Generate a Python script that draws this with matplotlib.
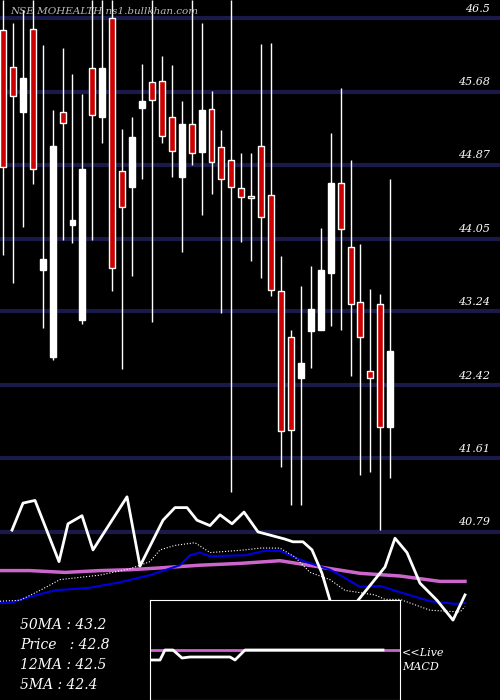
import numpy as np
import matplotlib.pyplot as plt

# candle OHLC, one per trading day
opens  = [46.37, 45.96, 45.46, 46.38, 43.70, 42.73, 45.46, 44.20, 43.14, 45.94,
          45.40, 46.50, 44.80, 44.62, 45.50, 45.79, 45.80, 45.40, 44.73, 45.32,
          45.01, 45.49, 45.07, 44.92, 44.61, 44.51, 45.08, 44.53, 43.47, 42.96,
          42.50, 43.02, 43.03, 43.67, 44.67, 43.96, 43.34, 42.58, 43.32, 41.96]
highs  = [46.70, 46.44, 46.59, 46.70, 46.20, 45.48, 46.17, 45.88, 45.66, 46.70,
          46.70, 46.70, 45.27, 45.40, 45.99, 46.70, 46.08, 45.98, 45.58, 46.70,
          46.44, 45.69, 45.26, 46.70, 45.00, 45.00, 46.21, 46.22, 43.86, 43.03,
          43.52, 43.74, 44.17, 45.22, 45.72, 44.92, 43.99, 43.49, 43.43, 44.71]
lows   = [43.87, 43.56, 44.18, 44.66, 43.06, 42.70, 44.03, 44.00, 43.10, 44.03,
          45.11, 43.47, 42.60, 43.63, 44.71, 43.12, 45.11, 44.73, 43.90, 44.87,
          44.31, 44.54, 43.22, 41.23, 44.01, 43.80, 43.61, 43.41, 41.51, 41.09,
          41.09, 42.61, 43.03, 43.08, 43.03, 42.52, 41.42, 41.46, 40.81, 41.39]
closes = [44.84, 45.63, 45.83, 44.82, 43.82, 45.08, 45.33, 44.26, 44.82, 45.42,
          45.94, 43.72, 44.40, 45.18, 45.58, 45.59, 45.19, 45.02, 45.32, 45.00,
          45.48, 44.90, 44.71, 44.62, 44.51, 44.50, 44.29, 43.48, 41.91, 41.92,
          42.67, 43.27, 43.70, 44.67, 44.16, 43.32, 42.96, 42.50, 41.96, 42.80]

price_ticks = [46.5, 45.68, 44.87, 44.05, 43.24, 42.42, 41.61, 40.79]

# overlay lines (x in chart pixels, y in price units)
white_x = [12, 23, 35, 59, 68, 82, 93, 127, 140, 163, 175, 187, 197, 210, 220, 232, 244, 258,
           285, 293, 303, 312, 322, 330, 340, 350, 358, 385, 395, 407, 420, 437, 453, 465]
white_y = [40.81, 41.11, 41.14, 40.46, 40.88, 40.97, 40.59, 41.18, 40.41, 40.92, 41.06, 41.06,
           40.92, 40.86, 40.98, 40.88, 41.01, 40.79, 40.71, 40.68, 40.68, 40.59, 40.33, 40.03,
           39.81, 39.87, 40.03, 40.40, 40.72, 40.56, 40.22, 40.03, 39.81, 40.09]
blue_x = [0, 10, 30, 55, 90, 120, 150, 180, 190, 200, 210, 245, 265, 280, 290, 305, 330, 340,
          360, 380, 400, 430, 455, 465]
blue_y = [40.00, 40.00, 40.07, 40.14, 40.17, 40.23, 40.31, 40.42, 40.53, 40.56, 40.52, 40.53,
          40.58, 40.58, 40.53, 40.46, 40.37, 40.31, 40.18, 40.19, 40.12, 40.02, 39.99, 40.00]
pink_x = [0, 30, 65, 100, 130, 160, 200, 240, 280, 320, 360, 400, 440, 465]
pink_y = [40.36, 40.36, 40.34, 40.36, 40.37, 40.39, 40.42, 40.44, 40.47, 40.40, 40.33, 40.30,
          40.24, 40.24]
dot_x = [0, 20, 40, 60, 100, 130, 150, 160, 175, 195, 210, 245, 260, 280, 295, 310, 330, 345,
         375, 385, 400, 430, 460, 465]
dot_y = [40.02, 40.03, 40.14, 40.26, 40.31, 40.38, 40.46, 40.59, 40.64, 40.67, 40.56, 40.59,
         40.61, 40.61, 40.51, 40.34, 40.26, 40.14, 40.09, 40.04, 40.04, 39.92, 39.90, 39.96]

# MACD inset
macd_x = [0, 10, 15, 23, 32, 40, 80, 85, 95, 233]
macd_y = [-1.0, -1.0, 0.0, 0.0, -0.8, -0.7, -0.7, -1.0, 0.0, 0.0]
signal_level = 0.0

labels = ["50MA : 43.2", "Price   : 42.8", "12MA : 42.5", "5MA : 42.4"]

fig = plt.figure(figsize=(5, 7), dpi=100, facecolor='black')
ax = fig.add_axes([0, 0, 1, 1])
ax.set_facecolor('black')
ax.set_xlim(-0.3, 50.05)
ax.set_ylim(46.7 - 700 / 90, 46.7)
ax.axis('off')

for t in price_ticks:
    ax.axhline(t, color='#1a1a4a', lw=3, zorder=1)
    ax.text(49.0, t + 0.05, str(t), color='white', fontsize=8, family='DejaVu Serif',
            style='italic', ha='right', va='bottom', zorder=5)

for i, (o, h, l, c) in enumerate(zip(opens, highs, lows, closes)):
    ax.vlines(i, l, h, color='white', lw=1, zorder=2)
    lo, hi = min(o, c), max(o, c)
    if hi - lo < 0.02:
        hi = lo + 0.02
    face = '#cc0000' if c < o else 'white'
    ax.bar(i, hi - lo, bottom=lo, width=0.6, color=face, edgecolor='white', lw=1, zorder=3)

ov = ax.twiny()
ov.set_xlim(0, 500)
ov.axis('off')
ov.plot(pink_x, pink_y, color='#cc66cc', lw=2.5, zorder=4)
ov.plot(blue_x, blue_y, color='#0000dd', lw=1.5, zorder=4)
ov.plot(dot_x, dot_y, color='white', lw=0.8, ls=':', zorder=4)
ov.plot(white_x, white_y, color='white', lw=2, zorder=4)

fig.text(0.02, 1 - 12 / 700, "NSE MOHEALTH ns1.bullkhan.com", color='#bbbbbb', fontsize=7.5,
         family='DejaVu Serif', style='italic', va='center', zorder=6)
for k, s in enumerate(labels):
    fig.text(0.04, (700 - 625 - 20 * k) / 700, s, color='white', fontsize=10,
             family='DejaVu Serif', style='italic', va='center')
fig.text(0.804, 1 - 660 / 700, "<<Live\nMACD", color='white', fontsize=8,
         family='DejaVu Serif', style='italic', va='center', linespacing=1.4)

inset = fig.add_axes([0.3, 0.0, 0.5, 100 / 700])
inset.set_facecolor('black')
inset.set_xlim(0, 250)
inset.set_ylim(-5, 5)
inset.set_xticks([])
inset.set_yticks([])
for sp in inset.spines.values():
    sp.set_color('white')
inset.axhline(signal_level, color='#cc66cc', lw=2)
inset.plot(macd_x, macd_y, color='white', lw=2)

fig.savefig('out.png', dpi=100, facecolor='black')
